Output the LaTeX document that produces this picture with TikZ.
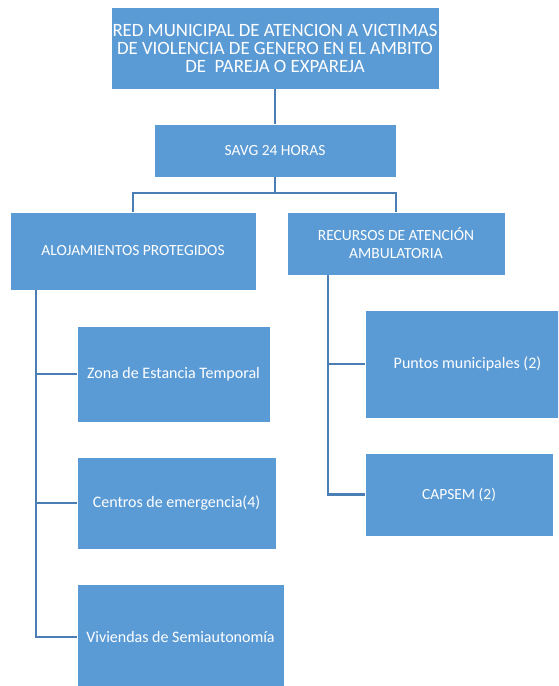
\documentclass[tikz,border=0pt]{standalone}
\usepackage{fontspec}
\setmainfont{Carlito}
\definecolor{boxblue}{HTML}{5B9BD5}
\definecolor{lineblue}{HTML}{4A7EB5}
\begin{document}
\begin{tikzpicture}[x=1pt,y=-1pt,
  box/.style={rectangle, fill=boxblue, draw=white, line width=0.4pt, text=white, inner sep=0pt, align=center,
    font=\fontsize{15.5}{18}\selectfont},
  lbl/.style={text=white, inner sep=0pt, font=\fontsize{16}{18}\selectfont},
  link/.style={draw=lineblue, line width=2.2pt}]
\clip (0,0) rectangle (558,686);
\fill[white] (0,0) rectangle (558,686);
% boxes
\node[box, minimum width=328, minimum height=82, font=\fontsize{18.8}{18}\selectfont] (red) at (275,48) {RED MUNICIPAL DE ATENCION A VICTIMAS\\DE VIOLENCIA DE GENERO EN EL AMBITO\\DE\ \ PAREJA O EXPAREJA};
\node[box, minimum width=242, minimum height=53] (savg) at (275,150.5) {SAVG 24 HORAS};
\node[box, minimum width=246, minimum height=78] (aloj) at (133,251) {ALOJAMIENTOS PROTEGIDOS};
\node[box, minimum width=218, minimum height=63] (recu) at (396,243.5) {RECURSOS DE ATENCIÓN\\AMBULATORIA};
\node[box, minimum width=193, minimum height=96, font=\fontsize{16}{18}\selectfont] (zona) at (173.5,374) {Zona de Estancia Temporal};
\node[box, minimum width=199, minimum height=92, font=\fontsize{16}{18}\selectfont] (cent) at (176.5,503) {Centros de emergencia(4)};
\node[box, minimum width=207, minimum height=106, anchor=north west] (vivi) at (77,584) {};
\node[lbl] (vivit) at (180.5,637) {Viviendas de Semiautonomía};
\node[box, minimum width=205, minimum height=108, anchor=north west] (punt) at (365,310) {};
\node[lbl] (puntt) at (467.5,364) {Puntos municipales (2)};
\node[box, minimum width=188, minimum height=83] (caps) at (459,494.5) {CAPSEM (2)};
% connectors
\draw[link] (red.south) -- (savg.north);
\draw[link] (savg.south) -- ++(0,16) coordinate (hub);
\draw[link] (aloj.north) |- (hub) -| (recu.north);
\draw[link] ([xshift=26pt]aloj.south west) |- (zona.west);
\draw[link] ([xshift=26pt]aloj.south west) |- (cent.west);
\draw[link] ([xshift=26pt]aloj.south west) |- (vivi.west |- vivit);
\draw[link] ([xshift=41pt]recu.south west) |- (punt.west |- puntt);
\draw[link] ([xshift=41pt]recu.south west) |- (caps.west);
\end{tikzpicture}
\end{document}
